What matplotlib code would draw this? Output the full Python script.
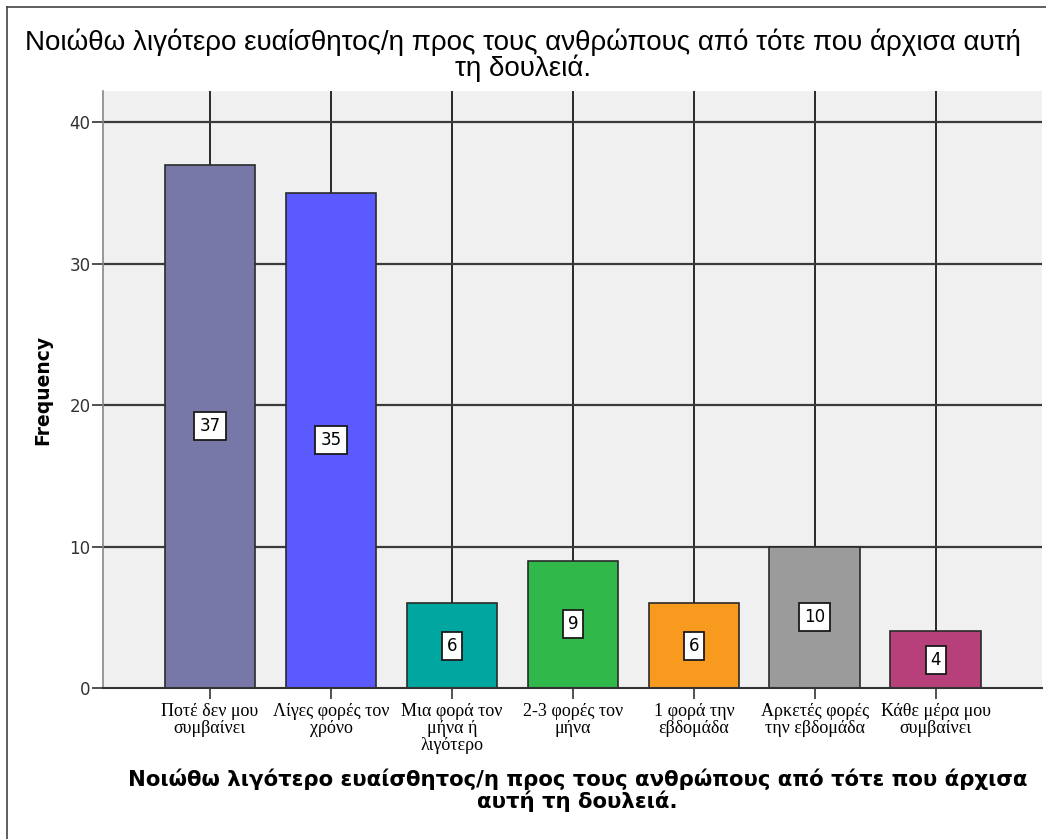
import numpy as np
import matplotlib
matplotlib.use("Agg")
import matplotlib.pyplot as plt
from matplotlib.lines import Line2D

# data
categories = ["Ποτέ δεν μου\nσυμβαίνει", "Λίγες φορές τον\nχρόνο", "Μια φορά τον\nμήνα ή\nλιγότερο",
              "2-3 φορές τον\nμήνα", "1 φορά την\nεβδομάδα", "Αρκετές φορές\nτην εβδομάδα",
              "Κάθε μέρα μου\nσυμβαίνει"]
counts = [37, 35, 6, 9, 6, 10, 4]
colors = ["#7878a8", "#5a5aff", "#00a6a0", "#30b84a", "#f89a1e", "#9b9b9b", "#b8407a"]
title = "Νοιώθω λιγότερο ευαίσθητος/η προς τους ανθρώπους από τότε που άρχισα αυτή\nτη δουλειά."
xlabel = "Νοιώθω λιγότερο ευαίσθητος/η προς τους ανθρώπους από τότε που άρχισα\nαυτή τη δουλειά."

fig = plt.figure(figsize=(10.46, 8.39), dpi=100)
ax = fig.add_axes([0.0985, 0.18, 0.8975, 0.7115])
ax.set_facecolor("#f0f0f0")

x = np.arange(len(counts))
# grid lines behind the bars
for xi in x:
    ax.axvline(xi, color="#1a1a1a", lw=1.3, zorder=1)
for yv in [10, 20, 30, 40]:
    ax.axhline(yv, color="#3a3a3a", lw=1.6, zorder=1)

ax.bar(x, counts, width=0.75, color=colors, edgecolor="#2a2a2a", linewidth=1.2, zorder=2)

for xi, c in zip(x, counts):
    ax.text(xi, c / 2, str(c), ha="center", va="center", fontsize=12, zorder=3,
            bbox=dict(boxstyle="square,pad=0.3", fc="white", ec="#1a1a1a", lw=1.3))

ax.set_xlim(-0.884, 6.876)
ax.set_ylim(0, 42.2)
ax.set_yticks([0, 10, 20, 30, 40])
ax.set_xticks(x)
ax.set_xticklabels(categories, family="Liberation Serif", fontsize=13, linespacing=1.0)
ax.tick_params(axis="y", length=8, width=1.2, color="#333333", labelsize=12, labelcolor="#333333", pad=1)
ax.tick_params(axis="x", length=8, width=1.2, color="#333333", pad=3)

for s in ["top", "right"]:
    ax.spines[s].set_visible(False)
ax.spines["left"].set_color("#888888")
ax.spines["left"].set_linewidth(1.2)
ax.spines["bottom"].set_color("#333333")
ax.spines["bottom"].set_linewidth(1.5)

ax.set_ylabel("Frequency", fontsize=13.5, fontweight="bold", family="DejaVu Sans", labelpad=12)

fig.text(0.5, 0.934, title, ha="center", va="center", fontsize=20,
         family="Liberation Sans", linespacing=0.9)
fig.text(0.552, 0.058, xlabel, ha="center", va="center", fontsize=15.3, fontweight="bold",
         family="DejaVu Sans", linespacing=1.0)

# outer frame
fig.add_artist(Line2D([7 / 1046, 7 / 1046], [0, 1 - 7 / 839], color="#444444", lw=1.2,
                      transform=fig.transFigure))
fig.add_artist(Line2D([7 / 1046, 1], [1 - 7 / 839, 1 - 7 / 839], color="#444444", lw=1.2,
                      transform=fig.transFigure))

fig.savefig("out.png", dpi=100)
